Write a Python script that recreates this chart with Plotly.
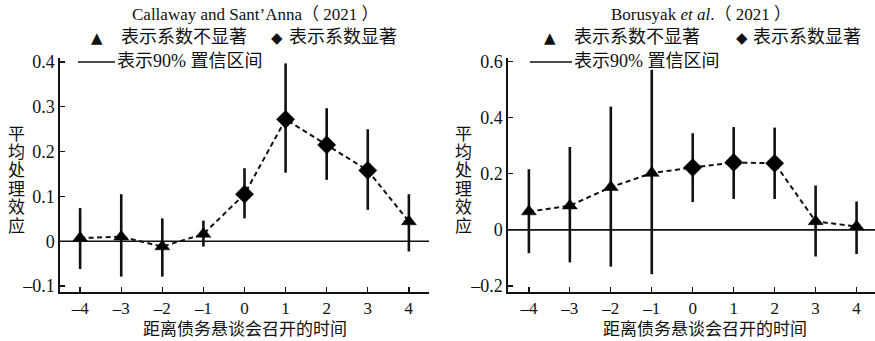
import plotly.graph_objects as go

periods = [-4, -3, -2, -1, 0, 1, 2, 3, 4]
period_labels = ["–4", "–3", "–2", "–1", "0", "1", "2", "3", "4"]

# Callaway and Sant'Anna (2021)
cs_est = [0.007, 0.010, -0.012, 0.016, 0.105, 0.272, 0.215, 0.158, 0.044]
cs_lo = [-0.062, -0.079, -0.079, -0.012, 0.051, 0.153, 0.137, 0.070, -0.023]
cs_hi = [0.074, 0.105, 0.051, 0.046, 0.163, 0.397, 0.297, 0.250, 0.105]
cs_sig = [0, 0, 0, 0, 1, 1, 1, 1, 0]
cs_yticks = [-0.1, 0, 0.1, 0.2, 0.3, 0.4]
cs_yticklabels = ["–0.1", "0", "0.1", "0.2", "0.3", "0.4"]

# Borusyak et al. (2021)
bo_est = [0.065, 0.086, 0.152, 0.202, 0.222, 0.240, 0.237, 0.030, 0.012]
bo_lo = [-0.083, -0.116, -0.131, -0.158, 0.099, 0.110, 0.110, -0.095, -0.086]
bo_hi = [0.216, 0.295, 0.439, 0.570, 0.344, 0.366, 0.364, 0.158, 0.101]
bo_sig = [0, 0, 0, 0, 1, 1, 1, 0, 0]
bo_yticks = [-0.2, 0, 0.2, 0.4, 0.6]
bo_yticklabels = ["–0.2", "0", "0.2", "0.4", "0.6"]

titles = ["Callaway and Sant’Anna（ 2021 ）", "Borusyak <i>et al</i>.（ 2021 ）"]
legend_ns = "表示系数不显著"
legend_s = "表示系数显著"
legend_ci = "表示90% 置信区间"
ytitle = "平均处理效应"
xtitle = "距离债务悬谈会召开的时间"

FONT = "Liberation Serif, Noto Sans CJK SC, serif"
TICKFONT = "Liberation Serif, serif"
INK = "#111111"
W, H = 875, 341

fig = go.Figure()

panels = [
    dict(est=cs_est, lo=cs_lo, hi=cs_hi, sig=cs_sig, xa="x", ya="y",
         yr=[-0.1134, 0.409], xr=[-4.49, 4.49], xd=[60 / W, 429 / W],
         yt=cs_yticks, ytl=cs_yticklabels),
    dict(est=bo_est, lo=bo_lo, hi=bo_hi, sig=bo_sig, xa="x2", ya="y2",
         yr=[-0.2214, 0.612], xr=[-4.51, 4.45], xd=[508 / W, 1.0],
         yt=bo_yticks, ytl=bo_yticklabels),
]

ydom = [(H - 292) / H, (H - 58) / H]

for i, p in enumerate(panels):
    fig.add_trace(go.Scatter(x=[p["xr"][0], p["xr"][1]], y=[0, 0], mode="lines",
                             line=dict(color=INK, width=1.6), xaxis=p["xa"], yaxis=p["ya"],
                             showlegend=False, hoverinfo="skip"))
    fig.add_trace(go.Scatter(
        x=periods, y=p["est"], mode="markers",
        marker=dict(size=0.1, color=INK),
        error_y=dict(type="data", symmetric=False,
                     array=[h - e for h, e in zip(p["hi"], p["est"])],
                     arrayminus=[e - l for e, l in zip(p["est"], p["lo"])],
                     width=0, thickness=2.6, color=INK),
        xaxis=p["xa"], yaxis=p["ya"], showlegend=False, hoverinfo="skip"))
    fig.add_trace(go.Scatter(x=periods, y=p["est"], mode="lines",
                             line=dict(color=INK, width=2, dash="5px,3.5px"),
                             xaxis=p["xa"], yaxis=p["ya"], showlegend=False))
    fig.add_trace(go.Scatter(
        x=periods, y=p["est"], mode="markers",
        marker=dict(symbol=["diamond" if s else "triangle-up" for s in p["sig"]],
                    size=[14 if s else 13 for s in p["sig"]], color="black",
                    opacity=1, line=dict(width=0.5, color="black")),
        xaxis=p["xa"], yaxis=p["ya"], showlegend=False))

    ax = dict(domain=p["xd"], range=p["xr"], tickvals=periods, ticktext=period_labels,
              ticks="inside", ticklen=5, tickwidth=1.3, tickcolor=INK, automargin=False,
              showline=True, linecolor=INK, linewidth=1.6, showgrid=False, zeroline=False,
              tickfont=dict(family=TICKFONT, size=17, color=INK), anchor=p["ya"])
    ay = dict(domain=ydom, range=p["yr"], tickvals=p["yt"], ticktext=p["ytl"],
              ticks="inside", ticklen=5, tickwidth=1.3, tickcolor=INK, automargin=False,
              showline=True, linecolor=INK, linewidth=1.6, showgrid=False, zeroline=False,
              tickfont=dict(family=TICKFONT, size=18, color=INK), anchor=p["xa"])
    key = "" if i == 0 else "2"
    fig.update_layout(**{"xaxis" + key: ax, "yaxis" + key: ay})

def px(x):
    return x / W

def py(y):
    return (H - y) / H

ann = []
shapes = []
geo = [
    dict(title_x=255, tri_x=97, ns_x=119, dia_x=277, s_x=287, line=(78, 115), ci_x=115, yt_x=16),
    dict(title_x=701, tri_x=550, ns_x=572, dia_x=742, s_x=751, line=(530, 572), ci_x=572, yt_x=464),
]

def A(x, y, text, anchor="center", family=FONT, size=16):
    return dict(xref="paper", yref="paper", x=px(x), y=py(y), text=text, showarrow=False,
                xanchor=anchor, yanchor="middle", align="center",
                font=dict(family=family, size=size, color=INK))

for g, t in zip(geo, titles):
    ann.append(A(g["title_x"], 15, t, size=17))
    ann.append(A(g["tri_x"], 38, "▲", family="DejaVu Sans", size=15))
    ann.append(A(g["ns_x"], 37, legend_ns, anchor="left", size=18))
    ann.append(A(g["dia_x"], 38, "◆", family="DejaVu Sans", size=15))
    ann.append(A(g["s_x"], 37, legend_s, anchor="left", size=18))
    ann.append(A(g["ci_x"], 61, legend_ci, anchor="left", size=18))
    shapes.append(dict(type="line", xref="paper", yref="paper", x0=px(g["line"][0]), x1=px(g["line"][1]),
                       y0=py(62), y1=py(62), line=dict(color=INK, width=1.6)))
    for k, ch in enumerate(ytitle):
        ann.append(A(g["yt_x"], 134 + k * 18.4, ch, size=17))

for cx in [245, 705]:
    ann.append(A(cx, 329, xtitle, size=17))

fig.update_layout(
    width=W, height=H, margin=dict(l=0, r=0, t=0, b=0, pad=0, autoexpand=False),
    paper_bgcolor="white", plot_bgcolor="white",
    annotations=ann, shapes=shapes, showlegend=False,
    font=dict(family=FONT, color=INK),
)

fig.write_html("out.html", config={"displayModeBar": False, "staticPlot": True},
               post_script="document.body.style.margin='0';document.body.style.overflow='hidden';")
